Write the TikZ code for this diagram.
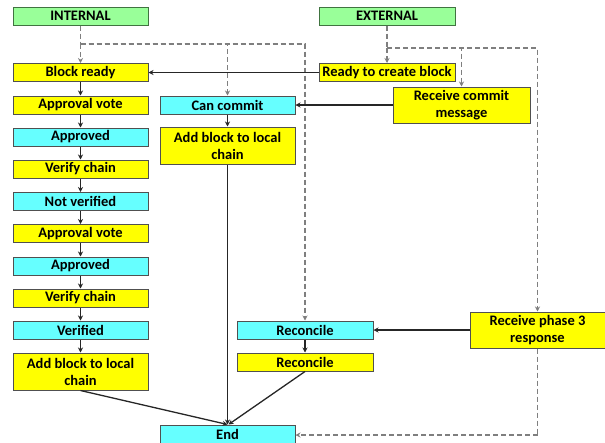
\documentclass[tikz,border=0pt]{standalone}
\usepackage{fontspec}
\setmainfont{Carlito}
\usetikzlibrary{arrows.meta}
\definecolor{boxyellow}{HTML}{FFFF00}
\definecolor{boxcyan}{HTML}{66FFFF}
\definecolor{boxgreen}{HTML}{99FF99}
\definecolor{boxedge}{HTML}{505050}
\definecolor{dashgray}{HTML}{7F7F7F}
\begin{document}
\begin{tikzpicture}[x=1pt,y=-1pt,
  box/.style={draw=boxedge, line width=1pt, rectangle, minimum width=135pt,
    minimum height=18pt, inner sep=1pt, align=center,
    font=\fontsize{14.5}{17}\selectfont\bfseries},
  tall/.style={minimum height=37pt},
  ybox/.style={box, fill=boxyellow},
  cbox/.style={box, fill=boxcyan},
  gbox/.style={box, fill=boxgreen, draw=boxedge!80!green},
  flow/.style={draw=black!85, line width=1.3pt, -{Stealth[length=5pt,width=5pt]}},
  dline/.style={draw=dashgray, line width=1.4pt, dash pattern=on 5pt off 3pt},
  darrow/.style={dline, -{Stealth[length=5pt,width=5pt]}}]
\useasboundingbox (0,0) rectangle (605,442);

% headers
\node[gbox] (internal) at (80.5,16) {INTERNAL};
\node[gbox, minimum width=136pt] (external) at (387,16) {EXTERNAL};

% internal chain
\node[ybox] (br)  at (80.5,72.5) {Block ready};
\node[ybox] (av1) at (80.5,105) {Approval vote};
\node[cbox] (ap1) at (80.5,137) {Approved};
\node[ybox] (vc1) at (80.5,169) {Verify chain};
\node[cbox] (nv)  at (80.5,201.5) {Not verified};
\node[ybox] (av2) at (80.5,233.5) {Approval vote};
\node[cbox] (ap2) at (80.5,266) {Approved};
\node[ybox] (vc2) at (80.5,298) {Verify chain};
\node[cbox] (vf)  at (80.5,330) {Verified};
\node[ybox, tall] (abl) at (80.5,371.5) {Add block to local\\chain};

% commit branch
\node[cbox] (cc)  at (227.5,105) {Can commit};
\node[ybox, tall] (abm) at (227.5,145.5) {Add block to local\\chain};

% reconcile branch
\node[cbox, minimum width=136pt] (rc1) at (305,330) {Reconcile};
\node[ybox, minimum width=136pt] (rc2) at (305,362) {Reconcile};

% external events
\node[ybox, minimum width=136pt] (rcb) at (387,72.5) {Ready to create block};
\node[ybox, tall, minimum height=36pt, minimum width=137pt] (rcm) at (461.5,105) {Receive commit\\message};
\node[ybox, tall, minimum height=36pt] (rp3) at (537.5,330) {Receive phase 3\\response};

\node[cbox] (end) at (227.5,434) {End};

% dashed fan-out from the headers
\coordinate (ibus) at (80.5,44);
\coordinate (ebus) at (387,48);
\coordinate (eret) at (537.5,435);
\draw[dline] (internal.south) -- (ibus);
\draw[darrow] (ibus) -- (br.north);
\draw[darrow] (ibus) -| (cc.north);
\draw[darrow] (ibus) -| (rc1.north);
\draw[dline] (external.south) -- (ebus);
\draw[darrow] (ebus) -- (rcb.north);
\draw[darrow] (ebus) -| (rcm.north);
\draw[darrow] (ebus) -| (rp3.north);
\draw[dline] (rp3.south) -- (eret);
\draw[darrow] (eret) -- (end.east |- eret);

% solid flow
\draw[flow] (br) -- (av1);
\draw[flow] (av1) -- (ap1);
\draw[flow] (ap1) -- (vc1);
\draw[flow] (vc1) -- (nv);
\draw[flow] (nv) -- (av2);
\draw[flow] (av2) -- (ap2);
\draw[flow] (ap2) -- (vc2);
\draw[flow] (vc2) -- (vf);
\draw[flow] (vf) -- (abl);
\draw[flow] (rcb.west) -- (br.east);
\draw[flow] (rcm.west) -- (cc.east |- rcm.west);
\draw[flow] (cc) -- (abm);
\draw[flow] (rp3.west) -- (rc1.east |- rp3.west);
\draw[flow] (rc1) -- (rc2);
\draw[flow] (abm.south) -- (end.north);
\draw[flow] (abl.south) -- (end.north);
\draw[flow] (rc2.south) -- ([xshift=1pt]end.north);
\end{tikzpicture}
\end{document}
